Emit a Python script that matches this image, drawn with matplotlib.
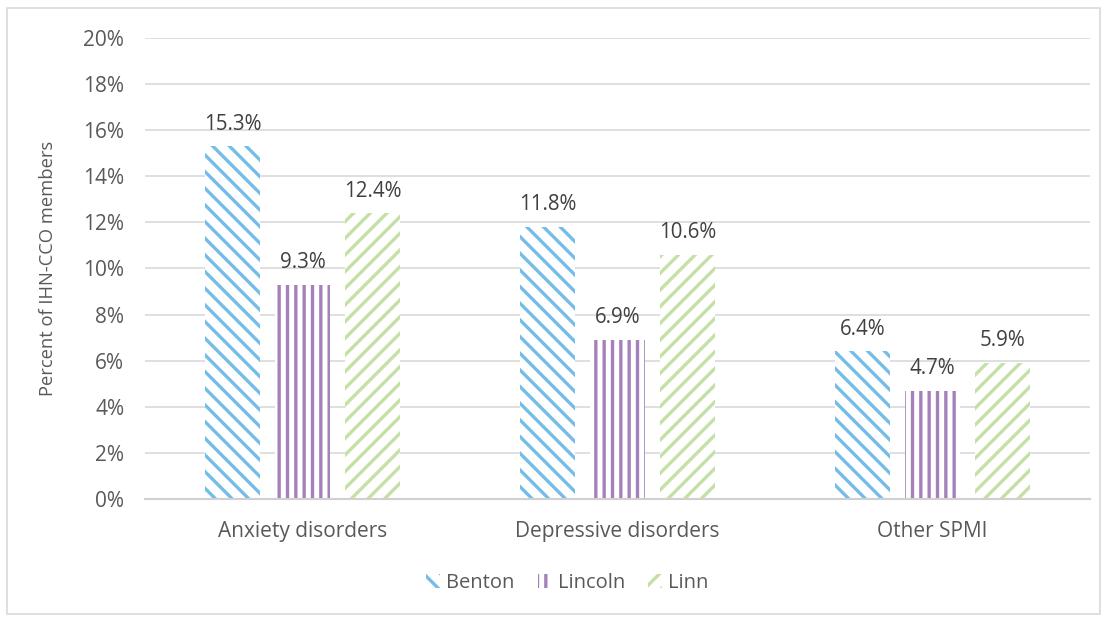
import numpy as np
import matplotlib.pyplot as plt
from matplotlib.patches import Rectangle, Patch

categories = ['Anxiety disorders', 'Depressive disorders', 'Other SPMI']
counties = ['Benton', 'Lincoln', 'Linn']
benton = [15.3, 11.8, 6.4]
lincoln = [9.3, 6.9, 4.7]
linn = [12.4, 10.6, 5.9]
yticks = [0, 2, 4, 6, 8, 10, 12, 14, 16, 18, 20]

colors = ['#75BDE8', '#A481BB', '#C5E0A5']
# two chars per pattern gives ~16 px diagonal spacing, ~8 px vertical
hatches = ['\\\\', '||', '//']

plt.rcParams['font.family'] = ['Open Sans', 'DejaVu Sans']
plt.rcParams['hatch.linewidth'] = 2.4

fig = plt.figure(figsize=(11.08, 6.18), dpi=100)
ax = fig.add_axes([145 / 1108, 0.1926, 945 / 1108, 0.746])

# light frame around the whole chart area
fig.patches.append(Rectangle((7 / 1108, 4 / 618), 1093 / 1108, 606 / 618,
                             transform=fig.transFigure, fill=False,
                             edgecolor='#D9D9D9', linewidth=1.2))

x = np.arange(len(categories))
width = 0.175
step = 0.222
series = [benton, lincoln, linn]

for i, (vals, col, h) in enumerate(zip(series, colors, hatches)):
    pos = x + (i - 1) * step
    ax.bar(pos, vals, width, facecolor='white', edgecolor=col,
           hatch=h, linewidth=0, zorder=2)
    for px, v in zip(pos, vals):
        ax.text(px, v + 0.5, f'{v:.1f}%', ha='center', va='bottom',
                fontsize=14.8, color='#404040')

ax.set_xlim(-0.5, 2.5)
ax.set_ylim(0, 20)
ax.set_yticks(yticks)
ax.set_yticklabels([f'{t}%' for t in yticks])
ax.set_xticks(x)
ax.set_xticklabels(categories)
ax.tick_params(axis='both', length=0, labelsize=15, colors='#595959')
ax.tick_params(axis='y', pad=15)
ax.tick_params(axis='x', pad=16)

ax.grid(axis='y', color='#D9D9D9', linewidth=1.2, zorder=0)
ax.set_axisbelow(True)
for s in ['top', 'right', 'left']:
    ax.spines[s].set_visible(False)
ax.spines['bottom'].set_color('#D0D0D0')
ax.spines['bottom'].set_linewidth(1.5)

ax.set_ylabel('Percent of IHN-CCO members', fontsize=13.2, color='#595959',
              labelpad=19)

handles = [Patch(facecolor='white', edgecolor=c, hatch=h, linewidth=0)
           for c, h in zip(colors, hatches)]
fig.legend(handles, counties, loc='center', bbox_to_anchor=(0.512, 0.056),
           ncol=3, frameon=False, fontsize=14.5, labelcolor='#595959',
           handlelength=0.7, handleheight=0.7, handletextpad=0.3,
           columnspacing=1.15)

fig.savefig('out.png', dpi=100)
